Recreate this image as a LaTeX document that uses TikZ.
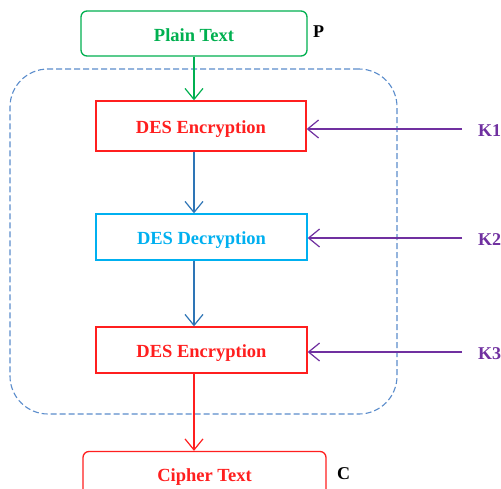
\documentclass[tikz,border=0pt]{standalone}
\usepackage{fontspec}
\setmainfont{Liberation Serif}
\usetikzlibrary{arrows.meta}
\definecolor{pgreen}{HTML}{00B050}
\definecolor{pred}{HTML}{FF1F1F}
\definecolor{pcyan}{HTML}{00B0F0}
\definecolor{pblue}{HTML}{2E75B6}
\definecolor{ppurple}{HTML}{7030A0}
\definecolor{pdash}{HTML}{5B8DCC}
\begin{document}
\begin{tikzpicture}[x=1pt,y=-1pt,
  box/.style={draw, line width=1.3pt, inner sep=0pt, minimum width=211pt, minimum height=46pt,
    text height=15pt, text depth=0pt,
    font=\fontsize{18.5}{20}\selectfont\bfseries},
  arr/.style={-{Straight Barb[length=11pt,width=18pt,line width=1.2pt]}, line width=1.2pt},
  lbl/.style={font=\fontsize{18}{20}\selectfont\bfseries, anchor=base west, inner sep=0pt}]
\useasboundingbox[fill=white] (0,0) rectangle (501,488);
\node[draw=pdash, dashed, dash pattern=on 6pt off 3pt, line width=1.1pt, rounded corners=38pt,
  minimum width=387pt, minimum height=345pt, inner sep=0pt] (group) at (203.5,241.5) {};
\node[box, draw=pgreen, text=pgreen, rounded corners=6pt, minimum width=226pt, minimum height=45pt] (plain) at (194,33.5) {Plain Text};
\node[box, draw=pred, text=pred, minimum width=210pt, minimum height=50pt] (enc1) at (201,126) {DES Encryption};
\node[box, draw=pred, text=pred, draw=pcyan, text=pcyan] (dec) at (201.5,237) {DES Decryption};
\node[box, draw=pred, text=pred] (enc2) at (201.5,350) {DES Encryption};
\node[box, draw=pred, text=pred, rounded corners=6pt, minimum width=243pt, minimum height=45pt] (cipher) at (204.5,474) {Cipher Text};
\node[lbl] (p) at (313,37) {P};
\node[lbl] (c) at (337,479) {C};
\draw[arr, pgreen] (plain.south) -- (plain.south |- enc1.north);
\draw[arr, pblue] (enc1.south -| plain.south) -- (dec.north -| plain.south);
\draw[arr, pblue] (dec.south -| plain.south) -- (enc2.north -| plain.south);
\draw[arr, pred] (enc2.south -| plain.south) -- (cipher.north -| plain.south);
\coordinate (k1s) at (462,129);
\coordinate (k2s) at (462,238);
\coordinate (k3s) at (462,352);
\draw[arr, ppurple] (k1s) -- (k1s -| enc1.east);
\draw[arr, ppurple] (k2s) -- (k2s -| dec.east);
\draw[arr, ppurple] (k3s) -- (k3s -| enc2.east);
\node[lbl, text=ppurple] (k1) at (478,136) {K1};
\node[lbl, text=ppurple] (k2) at (478,245) {K2};
\node[lbl, text=ppurple] (k3) at (478,359) {K3};
\end{tikzpicture}
\end{document}
